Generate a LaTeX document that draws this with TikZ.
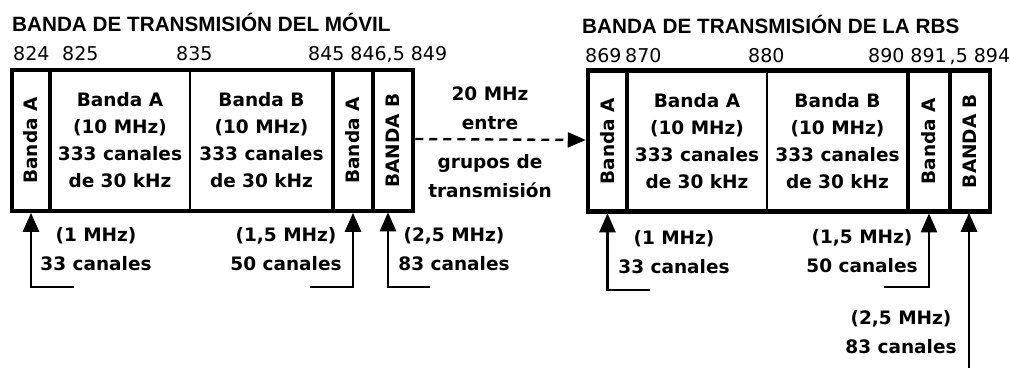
\documentclass[tikz,border=0pt]{standalone}
\usepackage{fontspec}
\setmainfont{DejaVu Sans}
\newfontfamily\titlefam{Liberation Sans}
\usetikzlibrary{arrows.meta}
\newcommand\bodyfnt{\fontsize{18.5}{27}\selectfont\bfseries}
\newcommand\notefnt{\fontsize{18.5}{29}\selectfont\bfseries}
\newcommand\numfnt{\fontsize{19}{23}\selectfont}
\newcommand\titlefnt{\titlefam\fontsize{20.7}{24}\selectfont\bfseries}
\begin{document}
\begin{tikzpicture}[x=1pt,y=-1pt,
  seg/.style={draw, line width=2.5pt, minimum height=141pt, inner sep=0pt, align=center, font=\bodyfnt},
  thickseg/.style={seg, line width=3.6pt},
  outer/.style={draw, line width=4.5pt, inner sep=0pt, minimum height=141pt},
  vlbl/.style={rotate=90, font=\bodyfnt, inner sep=0pt},
  num/.style={anchor=base west, font=\numfnt, inner sep=0pt},
  ttl/.style={anchor=base west, font=\titlefnt, inner sep=0pt},
  note/.style={align=center, font=\notefnt, inner sep=0pt},
  conn/.style={line width=2.6pt, -{Triangle[length=19pt,width=16pt]}},
  gap/.style={line width=2.4pt, dash pattern=on 8pt off 6pt, -{Triangle[length=18pt,width=15pt]}}
]
\useasboundingbox (0,0) rectangle (1010,368);

% titles
\node[ttl] (tL) at (12,31) {BANDA DE TRANSMISIÓN DEL MÓVIL};
\node[ttl] (tR) at (582,33) {BANDA DE TRANSMISIÓN DE LA RBS};

% frequency numbers
\node[num] (n824) at (13,60) {824};
\node[num] (n825) at (62,60) {825};
\node[num] (n835) at (176,60) {835};
\node[num] (n845) at (308,60) {845 846,5 849};
\node[num] (n869) at (585,62) {869};
\node[num] (n870) at (625,62) {870};
\node[num] (n880) at (748,62) {880};
\node[num] (n890) at (868,62) {890 891\kern3pt,5 894};

% left band segments
\node[thickseg, minimum width=38pt] (L1) at (31,140.5) {};
\node[seg, minimum width=140pt] (L2) at (120,140.5) {Banda A\\(10 MHz)\\333 canales\\de 30 kHz};
\node[seg, minimum width=143pt] (L3) at (261.5,140.5) {Banda B\\(10 MHz)\\333 canales\\de 30 kHz};
\node[thickseg, minimum width=40pt] (L4) at (353,140.5) {};
\node[seg, minimum width=40pt] (L5) at (393,140.5) {};
\node[outer, minimum width=401pt] (LB) at (212.5,140.5) {};
\node[vlbl] (L1t) at (L1) {Banda A};
\node[vlbl] (L4t) at (L4) {Banda A};
\node[vlbl] (L5t) at (L5) {BANDA B};

% right band segments
\node[thickseg, minimum width=39pt] (R1) at (607.5,141) {};
\node[seg, minimum width=140pt] (R2) at (697,141) {Banda A\\(10 MHz)\\333 canales\\de 30 kHz};
\node[seg, minimum width=141pt] (R3) at (837.5,141) {Banda B\\(10 MHz)\\333 canales\\de 30 kHz};
\node[thickseg, minimum width=42pt] (R4) at (929,141) {};
\node[seg, minimum width=40pt] (R5) at (970,141) {};
\node[outer, minimum width=402pt] (RB) at (789,141) {};
\node[vlbl] (R1t) at (R1) {Banda A};
\node[vlbl] (R4t) at (R4) {Banda A};
\node[vlbl] (R5t) at (R5) {BANDA B};

% gap between the bands
\draw[gap] ([yshift=1.5pt]LB.east) -- ([yshift=1pt]RB.west);
\node[note] (gap1) at (490,108) {20 MHz\\entre};
\node[note] (gap2) at (490,176) {grupos de\\transmisión};

% left pointers
\coordinate (a1) at (74,287);
\coordinate (a2) at (310,287);
\coordinate (a3) at (430,287);
\draw[conn] (a1) -| (L1.south);
\draw[conn] (a2) -| (L4.south);
\draw[conn] (a3) -| ([xshift=-5pt]L5.south);
\node[note] (p1) at (96,249) {(1 MHz)\\33 canales};
\node[note] (p2) at (286,249) {(1,5 MHz)\\50 canales};
\node[note] (p3) at (454,249) {(2,5 MHz)\\83 canales};

% right pointers
\coordinate (a4) at (650,290);
\coordinate (a5) at (884,287);
\coordinate (a6) at (969,368);
\draw[conn] (a4) -| (R1.south);
\draw[conn] (a5) -| (R4.south);
\draw[conn] (a6) -- (a6 |- R5.south);
\node[note] (p4) at (674,252.5) {(1 MHz)\\33 canales};
\node[note] (p5) at (862,251.5) {(1,5 MHz)\\50 canales};
\node[note] (p6) at (901,332.5) {(2,5 MHz)\\83 canales};
\end{tikzpicture}
\end{document}
